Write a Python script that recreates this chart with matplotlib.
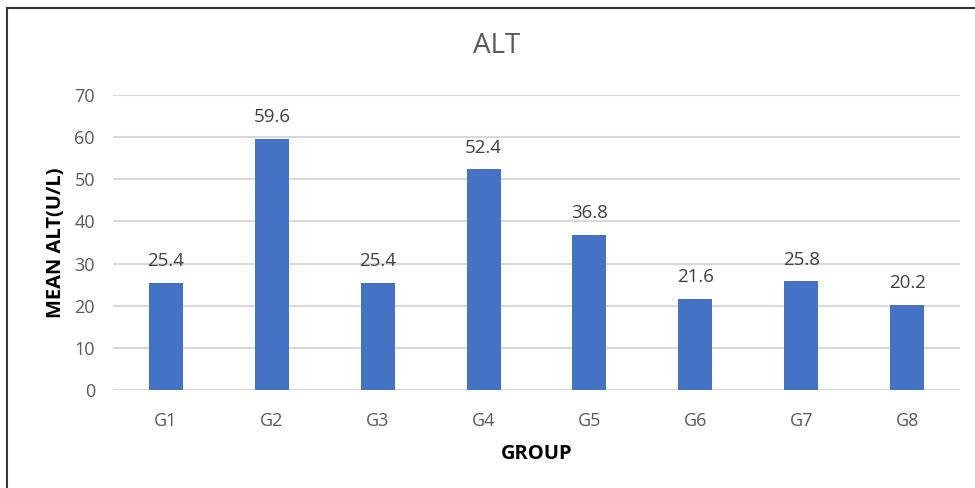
import matplotlib
matplotlib.use("Agg")
import matplotlib.pyplot as plt
from matplotlib.patches import Rectangle

groups = ["G1", "G2", "G3", "G4", "G5", "G6", "G7", "G8"]
mean_alt = [25.4, 59.6, 25.4, 52.4, 36.8, 21.6, 25.8, 20.2]
y_ticks = [0, 10, 20, 30, 40, 50, 60, 70]

plt.rcParams['font.family'] = ['Open Sans', 'DejaVu Sans']

W, H = 975, 488
fig = plt.figure(figsize=(W / 100, H / 100), dpi=100)
fig.patch.set_facecolor("white")

# plot area in pixel coordinates
left, right = 113, 960
top, bottom = 95, 390
ax = fig.add_axes([left / W, 1 - bottom / H, (right - left) / W, (bottom - top) / H])

x = list(range(len(groups)))
ax.bar(x, mean_alt, width=0.32, color="#4472C4", zorder=3)
for xi, v in zip(x, mean_alt):
    ax.annotate(f"{v:.1f}", (xi, v), xytext=(0, 9), textcoords="offset points",
                ha="center", va="bottom", fontsize=13.5, color="#404040")

ax.set_xlim(-0.5, len(groups) - 0.5)
ax.set_ylim(0, 70)
ax.set_yticks(y_ticks)
ax.set_xticks(x)
ax.set_xticklabels(groups)
ax.tick_params(axis="both", length=0, labelsize=13, labelcolor="#595959")
ax.tick_params(axis="y", pad=13)
ax.tick_params(axis="x", pad=16)
ax.grid(axis="y", color="#D9D9D9", linewidth=1.5, zorder=0)
for s in ax.spines.values():
    s.set_visible(False)

ax.set_ylabel("MEAN ALT(U/L)", fontsize=14.5, fontweight="bold", color="black", labelpad=6)
ax.set_xlabel("GROUP", fontsize=14.5, fontweight="bold", color="black", labelpad=10)

fig.text(497 / W, 1 - 46 / H, "ALT", ha="center", va="center", fontsize=20, color="#595959")

# outer chart frame
fig.patches.append(Rectangle((7 / W, -0.1), 1.2, 1 - 8 / H + 0.1, transform=fig.transFigure,
                             fill=False, edgecolor="#333333", linewidth=1.5))

fig.savefig("out.png", dpi=100)
